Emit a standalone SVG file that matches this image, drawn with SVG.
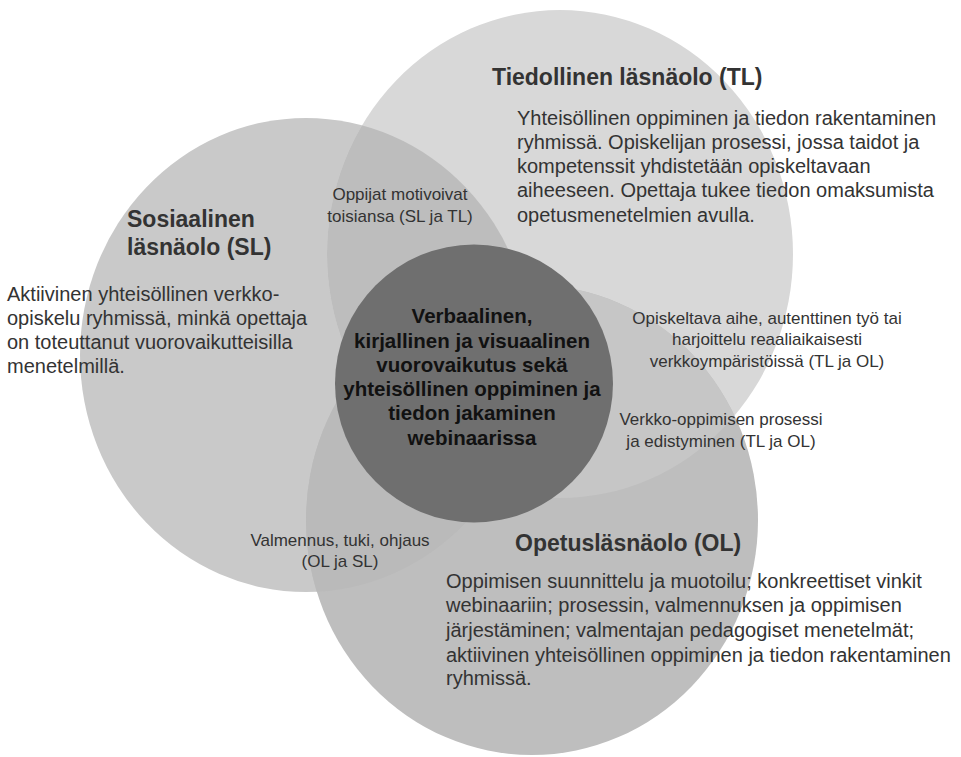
<svg xmlns="http://www.w3.org/2000/svg" width="961" height="757" viewBox="0 0 961 757">
  <style>
    .title { font-family: "Liberation Sans", Arial, sans-serif; font-weight: bold; font-size: 23px; fill: #333333; }
    .body { font-family: "Liberation Sans", Arial, sans-serif; font-size: 20px; fill: #333333; }
    .small { font-family: "Liberation Sans", Arial, sans-serif; font-size: 17px; fill: #333333; text-anchor: middle; }
    .center { font-family: "Liberation Sans", Arial, sans-serif; font-weight: bold; font-size: 20.5px; fill: #111111; text-anchor: middle; }
  </style>
  <defs>
    <ellipse id="eSL" cx="306" cy="355" rx="226" ry="237"/>
    <ellipse id="eTL" cx="560" cy="254" rx="233" ry="244"/>
    <ellipse id="eOL" cx="532" cy="520" rx="226" ry="235"/>
    <clipPath id="clipSL"><use href="#eSL"/></clipPath>
    <clipPath id="clipTL"><use href="#eTL"/></clipPath>
  </defs>
  <rect width="961" height="757" fill="#ffffff"/>

  <g id="node-sl">
    <use href="#eSL" fill="#c9c9c9"/>
    <text class="title" x="127" y="227">Sosiaalinen</text>
    <text class="title" x="127" y="255">läsnäolo (SL)</text>
    <text class="body" x="7" y="301">Aktiivinen yhteisöllinen verkko-</text>
    <text class="body" x="7" y="325">opiskelu ryhmissä, minkä opettaja</text>
    <text class="body" x="7" y="349">on toteuttanut vuorovaikutteisilla</text>
    <text class="body" x="7" y="373">menetelmillä.</text>
  </g>

  <g id="node-tl">
    <use href="#eTL" fill="#d8d8d8"/>
    <text class="title" x="492" y="85">Tiedollinen läsnäolo (TL)</text>
    <text class="body" x="517" y="125">Yhteisöllinen oppiminen ja tiedon rakentaminen</text>
    <text class="body" x="517" y="149">ryhmissä. Opiskelijan prosessi, jossa taidot ja</text>
    <text class="body" x="517" y="173">kompetenssit yhdistetään opiskeltavaan</text>
    <text class="body" x="517" y="197">aiheeseen. Opettaja tukee tiedon omaksumista</text>
    <text class="body" x="517" y="222">opetusmenetelmien avulla.</text>
  </g>

  <g id="node-ol">
    <use href="#eOL" fill="#bebebe"/>
    <text class="title" x="515" y="551">Opetusläsnäolo (OL)</text>
    <text class="body" x="446" y="588">Oppimisen suunnittelu ja muotoilu; konkreettiset vinkit</text>
    <text class="body" x="446" y="612">webinaariin; prosessin, valmennuksen ja oppimisen</text>
    <text class="body" x="446" y="637">järjestäminen; valmentajan pedagogiset menetelmät;</text>
    <text class="body" x="446" y="662">aktiivinen yhteisöllinen oppiminen ja tiedon rakentaminen</text>
    <text class="body" x="446" y="685">ryhmissä.</text>
  </g>

  <g id="overlap-sl-tl">
    <g clip-path="url(#clipSL)"><use href="#eTL" fill="#bdbdbd"/></g>
    <text class="small" x="400" y="200">Oppijat motivoivat</text>
    <text class="small" x="400" y="222">toisiansa (SL ja TL)</text>
  </g>

  <g id="overlap-tl-ol">
    <g clip-path="url(#clipTL)"><use href="#eOL" fill="#c6c6c6"/></g>
    <text class="small" x="767" y="324">Opiskeltava aihe, autenttinen työ tai</text>
    <text class="small" x="767" y="345">harjoittelu reaaliaikaisesti</text>
    <text class="small" x="767" y="367">verkkoympäristöissä (TL ja OL)</text>
    <text class="small" x="721" y="425">Verkko-oppimisen prosessi</text>
    <text class="small" x="721" y="447">ja edistyminen (TL ja OL)</text>
  </g>

  <g id="overlap-sl-ol">
    <g clip-path="url(#clipSL)"><use href="#eOL" fill="#bababa"/></g>
    <g clip-path="url(#clipSL)"><g clip-path="url(#clipTL)"><use href="#eOL" fill="#b3b3b3"/></g></g>
    <text class="small" x="340" y="546">Valmennus, tuki, ohjaus</text>
    <text class="small" x="340" y="567">(OL ja SL)</text>
  </g>

  <g id="node-center">
    <circle cx="474" cy="383.5" r="139" fill="#6f6f6f"/>
    <text class="center" x="472" y="323">Verbaalinen,</text>
    <text class="center" x="472" y="348">kirjallinen ja visuaalinen</text>
    <text class="center" x="472" y="372">vuorovaikutus sekä</text>
    <text class="center" x="472" y="396">yhteisöllinen oppiminen ja</text>
    <text class="center" x="472" y="420">tiedon jakaminen</text>
    <text class="center" x="472" y="445">webinaarissa</text>
  </g>
</svg>
